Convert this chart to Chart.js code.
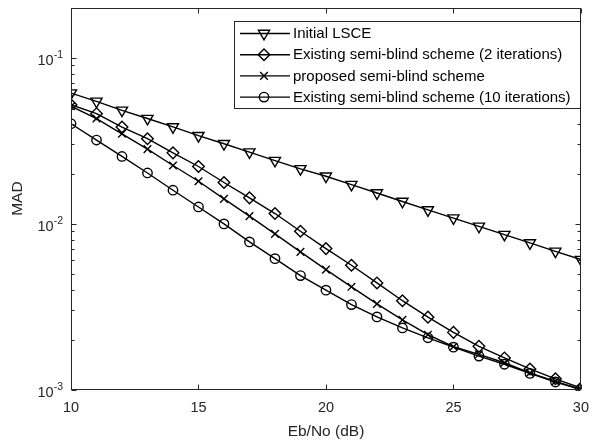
<!DOCTYPE html>
<html>
<head>
<meta charset="utf-8">
<script src="https://cdn.jsdelivr.net/npm/chart.js@4.4.1/dist/chart.umd.min.js"></script>
<style>
  html, body { margin: 0; padding: 0; background: #fff; }
  #mad_chart { display: block; }
</style>
</head>
<body>
<canvas id="mad_chart" width="599" height="443"></canvas>
<script>
// values (MAD vs Eb/No)
const ebno_db = [10, 11, 12, 13, 14, 15, 16, 17, 18, 19, 20, 21, 22, 23, 24, 25, 26, 27, 28, 29, 30];
const initial_lsce = [0.0612, 0.0546, 0.0482, 0.0430, 0.0383, 0.0339, 0.0303, 0.0270, 0.0240, 0.0214, 0.0193,
                      0.0172, 0.0153, 0.0136, 0.0121, 0.0108, 0.00963, 0.00859, 0.00765, 0.00681, 0.00607];
const existing_2_iter = [0.0521, 0.0460, 0.0382, 0.0325, 0.0267, 0.0221, 0.0177, 0.0143, 0.0115, 0.0090, 0.00707,
                         0.00561, 0.00439, 0.00343, 0.00273, 0.00221, 0.00182, 0.00155, 0.00133, 0.00116, 0.00102];
const proposed_scheme = [0.0510, 0.0430, 0.0348, 0.0281, 0.0224, 0.0180, 0.0141, 0.0111, 0.00867, 0.00675, 0.00528,
                         0.00416, 0.00328, 0.00263, 0.00214, 0.00181, 0.00163, 0.00145, 0.00126, 0.00112, 0.00100];
const existing_10_iter = [0.0400, 0.0319, 0.0254, 0.0202, 0.0159, 0.0126, 0.00996, 0.00776, 0.00615, 0.00486, 0.00397,
                          0.00325, 0.00274, 0.00235, 0.00205, 0.00180, 0.00159, 0.00142, 0.00125, 0.00111, 0.00100];
const series_names = ["Initial LSCE", "Existing semi-blind scheme (2 iterations)",
                      "proposed semi-blind scheme", "Existing semi-blind scheme (10 iterations)"];
const x_ticks = [10, 15, 20, 25, 30];
const y_decades = [-3, -2, -1];

const axis_color = "#262626";
const font_family = "'Liberation Sans', Arial, sans-serif";

const marker_styles = [
    {pointStyle: "triangle", rotation: 180, radius: 6.4},
    {pointStyle: "rectRot", rotation: 0, radius: 5.8},
    {pointStyle: "crossRot", rotation: 0, radius: 5.4},
    {pointStyle: "circle", rotation: 0, radius: 4.7}
];

function toPoints(values) {
    return values.map((v, i) => ({x: ebno_db[i], y: v}));
}

function makeDataset(name, values, style) {
    return {
        label: name,
        data: toPoints(values),
        borderColor: "#000",
        borderWidth: 1.4,
        backgroundColor: "rgba(0,0,0,0)",
        pointStyle: style.pointStyle,
        pointRotation: style.rotation,
        pointRadius: style.radius,
        pointBorderColor: "#000",
        pointBackgroundColor: "rgba(0,0,0,0)",
        pointBorderWidth: 1.4,
        tension: 0,
        fill: false
    };
}

// box, inward ticks and 10^n labels like the MATLAB axes
const axes_box_plugin = {
    id: "axes_box",
    afterDatasetsDraw(chart) {
        const ctx = chart.ctx;
        const area = chart.chartArea;
        const xs = chart.scales.x, ys = chart.scales.y;
        const left = Math.round(area.left) + 0.5, right = Math.round(area.right) - 0.5;
        const top = Math.round(area.top) + 0.5, bottom = Math.round(area.bottom) - 0.5;

        ctx.save();
        ctx.strokeStyle = axis_color;
        ctx.lineWidth = 1;
        ctx.strokeRect(left, top, right - left, bottom - top);

        ctx.beginPath();
        x_ticks.forEach(t => {
            const px = Math.round(xs.getPixelForValue(t)) + 0.5;
            ctx.moveTo(px, bottom); ctx.lineTo(px, bottom - 5);
            ctx.moveTo(px, top); ctx.lineTo(px, top + 5);
        });
        y_decades.forEach(d => {
            for (let k = 1; k <= 9; k++) {
                const v = k * Math.pow(10, d);
                if (v > ys.max * 0.999) continue;
                const py = Math.round(ys.getPixelForValue(v)) + 0.5;
                const len = k === 1 ? 5 : 3;
                ctx.moveTo(left, py); ctx.lineTo(left + len, py);
                ctx.moveTo(right, py); ctx.lineTo(right - len, py);
            }
        });
        ctx.stroke();

        // y tick labels with superscript exponents
        ctx.fillStyle = axis_color;
        ctx.textAlign = "left";
        ctx.textBaseline = "alphabetic";
        y_decades.forEach(d => {
            const py = ys.getPixelForValue(Math.pow(10, d));
            const sup = String(d);
            ctx.font = "10.5px " + font_family;
            const sup_w = ctx.measureText(sup).width;
            ctx.fillText(sup, area.left - 8 - sup_w, py + 0.5);
            ctx.font = "14.5px " + font_family;
            const base_w = ctx.measureText("10").width;
            ctx.fillText("10", area.left - 8 - sup_w - base_w, py + 7.5);
        });
        ctx.restore();
    },
    afterDraw(chart) {
        // legend in the upper right corner of the axes
        const ctx = chart.ctx;
        const box = {left: 234.5, top: 21.5, right: 580.5, bottom: 108.5};
        ctx.save();
        ctx.fillStyle = "#fff";
        ctx.fillRect(box.left, box.top, box.right - box.left, box.bottom - box.top);
        ctx.strokeStyle = axis_color;
        ctx.lineWidth = 1;
        ctx.strokeRect(box.left, box.top, box.right - box.left, box.bottom - box.top);

        chart.data.datasets.forEach((ds, i) => {
            const row_y = 33.5 + i * 21.2;
            ctx.strokeStyle = "#000";
            ctx.lineWidth = 1.4;
            ctx.beginPath();
            ctx.moveTo(240, row_y); ctx.lineTo(290, row_y);
            ctx.stroke();
            ctx.fillStyle = "rgba(0,0,0,0)";
            Chart.helpers.drawPoint(ctx, {
                pointStyle: ds.pointStyle,
                rotation: ds.pointRotation,
                radius: ds.pointRadius,
                borderWidth: 1.4
            }, 264, row_y);
            ctx.fillStyle = "#000";
            ctx.font = "15px " + font_family;
            ctx.textAlign = "left";
            ctx.textBaseline = "middle";
            ctx.fillText(ds.label, 293, row_y + 0.5);
        });
        ctx.restore();
    }
};

const chart = new Chart(document.getElementById("mad_chart"), {
    type: "line",
    data: {
        datasets: [
            makeDataset(series_names[0], initial_lsce, marker_styles[0]),
            makeDataset(series_names[1], existing_2_iter, marker_styles[1]),
            makeDataset(series_names[2], proposed_scheme, marker_styles[2]),
            makeDataset(series_names[3], existing_10_iter, marker_styles[3])
        ]
    },
    options: {
        responsive: false,
        devicePixelRatio: 1,
        animation: false,
        layout: { padding: {top: 7, right: 9, left: 0, bottom: 0} },
        plugins: {
            legend: { display: false },
            tooltip: { enabled: false }
        },
        scales: {
            x: {
                type: "linear",
                min: 10,
                max: 30,
                grid: { display: false, drawTicks: false },
                border: { display: false },
                ticks: {
                    stepSize: 5,
                    autoSkip: false,
                    maxRotation: 0,
                    padding: 10,
                    color: axis_color,
                    font: { family: font_family, size: 14.5 }
                },
                title: {
                    display: true,
                    text: "Eb/No (dB)",
                    color: axis_color,
                    font: { family: font_family, size: 15.5 },
                    padding: { top: 0, bottom: 2 }
                },
                afterFit: (scale) => { scale.height = 53.5; }
            },
            y: {
                type: "logarithmic",
                min: 0.001,
                max: 0.2,
                grid: { display: false, drawTicks: false },
                border: { display: false },
                ticks: { display: false },
                title: {
                    display: true,
                    text: "MAD",
                    color: axis_color,
                    font: { family: font_family, size: 15.5 },
                    padding: { top: 8, bottom: 0 }
                },
                afterFit: (scale) => { scale.width = 71; }
            }
        }
    },
    plugins: [axes_box_plugin]
});
</script>
</body>
</html>
